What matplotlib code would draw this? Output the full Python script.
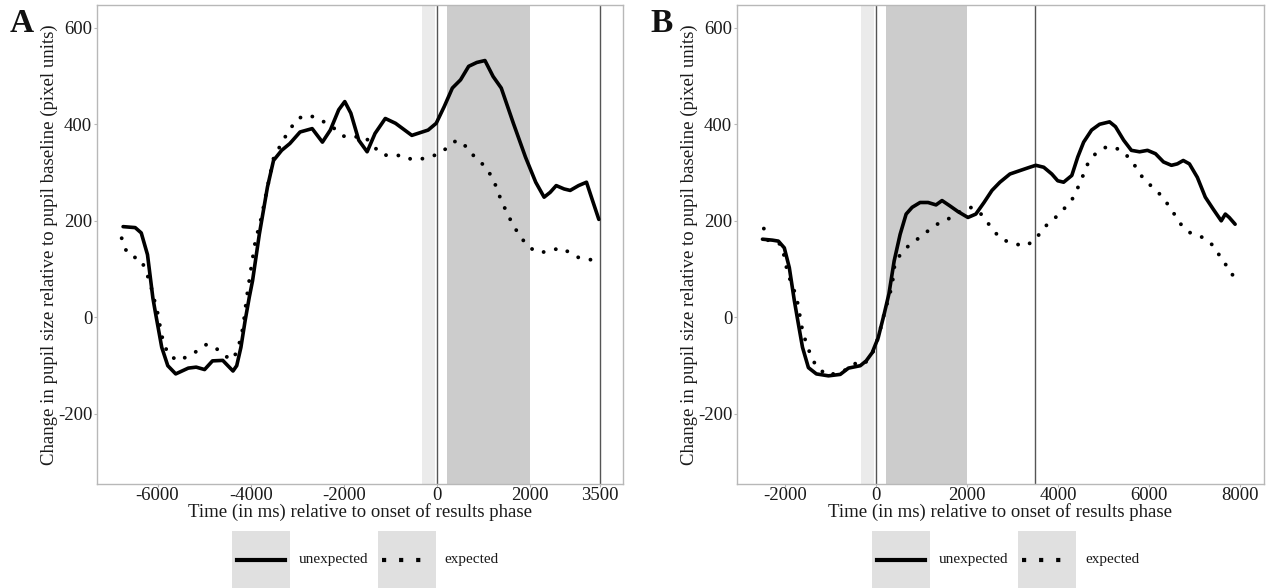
import numpy as np
import matplotlib.pyplot as plt
from matplotlib.patches import Rectangle
from matplotlib.lines import Line2D

# panel A: time (ms) and pupil change
a_unexp_t = [-6740, -6480, -6350, -6216, -6100, -6040, -5910, -5780, -5610, -5340, -5170, -4990,
             -4820, -4600, -4380, -4300, -4210, -4120, -4030, -3960, -3815, -3640, -3510, -3335,
             -3160, -2940, -2680, -2460, -2290, -2110, -1980, -1850, -1680, -1500, -1330, -1110,
             -890, -540, -190, -17, 157, 330, 506, 680, 855, 1030, 1205, 1380, 1640, 1900, 2120,
             2300, 2430, 2560, 2730, 2860, 3040, 3210, 3340, 3475]
a_unexp_v = [188, 186, 175, 130, 40, 7, -62, -100, -117, -105, -103, -108,
             -90, -89, -111, -100, -62, -7, 42, 76, 172, 270, 325, 346,
             360, 384, 391, 363, 388, 430, 447, 423, 367, 343, 381, 412,
             402, 377, 388, 402, 437, 475, 492, 520, 528, 532, 499, 475, 402, 332, 280,
             249, 259, 273, 266, 263, 273, 280, 242, 203]
a_exp_t = [-6770, -6650, -6480, -6350, -6170, -6000, -5910, -5780, -5560, -5340, -5120, -4950,
           -4775, -4560, -4370, -4250, -4165, -4080, -3990, -3900, -3770, -3640, -3510, -3380,
           -3200, -2990, -2770, -2550, -2375, -2200, -1980, -1765, -1550, -1200, -980, -760,
           -540, -280, 26, 245, 420, 640, 810, 1030, 1205, 1380, 1550, 1770, 1990, 2210, 2430,
           2650, 2860, 3040, 3260, 3430]
a_exp_v = [164, 132, 124, 120, 75, 10, -38, -76, -90, -80, -68, -56,
           -61, -80, -87, -56, -21, 45, 103, 158, 207, 270, 329, 353,
           384, 412, 419, 412, 402, 391, 374, 374, 374, 338, 334, 336,
           327, 329, 338, 353, 367, 353, 332, 313, 287, 242, 207, 169, 144, 134, 138,
           144, 134, 124, 120, 118]

# panel B
b_unexp_t = [-2500, -2280, -2150, -2020, -1910, -1800, -1710, -1620, -1490, -1315, -1050, -790,
             -610, -350, -220, -88, 44, 175, 280, 395, 526, 658, 790, 965, 1140, 1315, 1447,
             1620, 1800, 2017, 2190, 2370, 2545, 2720, 2940, 3157, 3376, 3508, 3683, 3860, 3990,
             4120, 4300, 4430, 4560, 4735, 4910, 5130, 5260, 5440, 5610, 5790, 5964, 6140, 6315,
             6490, 6620, 6750, 6885, 7060, 7235, 7410, 7585, 7675, 7760, 7890]
b_unexp_v = [162, 160, 158, 144, 103, 35, -14, -62, -104, -117, -121, -118,
             -105, -100, -90, -73, -42, 7, 49, 117, 172, 214, 228, 238, 238, 233, 242,
             231, 219, 207, 214, 238, 263, 280, 297, 304, 311, 315, 311, 297, 283,
             280, 294, 332, 363, 388, 400, 405, 395, 367, 346, 343, 346, 339, 322,
             315, 318, 325, 318, 290, 249, 224, 200, 214, 207, 193]
b_exp_t = [-2470, -2385, -2200, -2070, -1947, -1750, -1620, -1510, -1315, -1050, -790, -610,
           -440, -265, -88, 44, 175, 350, 395, 482, 658, 877, 1096, 1315, 1535, 1754, 1930,
           2105, 2280, 2500, 2720, 2940, 3113, 3290, 3508, 3683, 3900, 4120, 4300, 4470, 4650,
           4820, 5040, 5215, 5440, 5660, 5875, 6095, 6270, 6490, 6665, 6885, 7105, 7280, 7455,
           7630, 7735, 7867]
b_exp_v = [184, 160, 158, 148, 92, 42, -28, -62, -103, -121, -111, -108,
           -94, -97, -76, -42, 7, 66, 103, 124, 144, 160, 176, 192, 201, 214, 224,
           228, 217, 190, 164, 155, 151, 148, 162, 186, 203, 224, 243, 276, 318,
           339, 352, 353, 343, 318, 287, 268, 252, 224, 196, 176, 169, 160, 144,
           113, 106, 82]

a_xticks = [-6000, -4000, -2000, 0, 2000, 3500]
b_xticks = [-2000, 0, 2000, 4000, 6000, 8000]
yticks = [-200, 0, 200, 400, 600]
series_names = ['unexpected', 'expected']

W, H = 1269, 588
plt.rcParams['font.family'] = ['Liberation Serif', 'DejaVu Serif']
plt.rcParams['axes.unicode_minus'] = False
fig = plt.figure(figsize=(W / 100, H / 100), dpi=100)


def px_axes(x0, x1, y0, y1):
    return fig.add_axes([x0 / W, 1 - y1 / H, (x1 - x0) / W, (y1 - y0) / H])


def draw_panel(ax, t1, v1, t2, v2, xticks, xlim, letter, left_px):
    ax.axvspan(-330, -40, color='#ebebeb', lw=0, zorder=0)
    ax.axvspan(220, 2000, color='#cccccc', lw=0, zorder=0)
    ax.axvline(0, color='#555555', lw=1.0, zorder=1)
    ax.axvline(3500, color='#555555', lw=1.0, zorder=1)
    ax.plot(t1, v1, color='black', lw=2.6, solid_capstyle='round', zorder=3)
    ax.plot(t2, v2, color='black', lw=2.8, linestyle=(0, (0.01, 3.2)),
            dash_capstyle='round', zorder=3)
    ax.set_xlim(*xlim)
    ax.set_ylim(-345, 647)
    ax.set_xticks(xticks)
    ax.set_yticks(yticks)
    for s in ax.spines.values():
        s.set_color('#b8b8b8')
        s.set_linewidth(1.0)
    ax.tick_params(colors='#b8b8b8', labelcolor='#1a1a1a', labelsize=13.5,
                   length=2, width=0.8, pad=1.5)
    ax.tick_params(axis='x', pad=0)
    ax.set_xlabel('Time (in ms) relative to onset of results phase', fontsize=13.5,
                  color='#1a1a1a')
    ax.xaxis.set_label_coords(0.5, (484 - 512) / 479)
    ax.xaxis.label.set_va('center')
    ax.set_ylabel('Change in pupil size relative to pupil baseline (pixel units)',
                  fontsize=13.5, color='#1a1a1a')
    ax.yaxis.set_label_coords(-48 / 526, 0.5)
    ax.yaxis.label.set_va('center')
    fig.text((left_px - 75) / W, 1 - 23 / H, letter, fontsize=24, fontweight='bold',
             ha='center', va='center', color='#111111')


def draw_legend(boxes, texts):
    styles = ['-', (0, (1, 3.1))]
    spans = [(5, 53), (4, 44)]
    for bx, tx, name, st, sp in zip(boxes, texts, series_names, styles, spans):
        fig.add_artist(Rectangle((bx / W, 0), 58 / W, 57 / H, transform=fig.transFigure,
                                 facecolor='#e0e0e0', edgecolor='none'))
        fig.add_artist(Line2D([(bx + sp[0]) / W, (bx + sp[1]) / W], [1 - 560 / H] * 2,
                              transform=fig.transFigure, color='black', lw=3.0,
                              linestyle=st, dash_capstyle='butt'))
        fig.text(tx / W, 1 - 559 / H, name, fontsize=11, va='center', ha='left',
                 color='#1a1a1a')


axA = px_axes(97, 623, 5, 484)
draw_panel(axA, a_unexp_t, a_unexp_v, a_exp_t, a_exp_v, a_xticks, (-7300, 3994), 'A', 97)
axB = px_axes(737, 1264, 5, 484)
draw_panel(axB, b_unexp_t, b_unexp_v, b_exp_t, b_exp_v, b_xticks, (-3060, 8525), 'B', 737)

draw_legend([232, 378], [299, 444])
draw_legend([872, 1018], [939, 1085])

fig.savefig('out.png', dpi=100)
